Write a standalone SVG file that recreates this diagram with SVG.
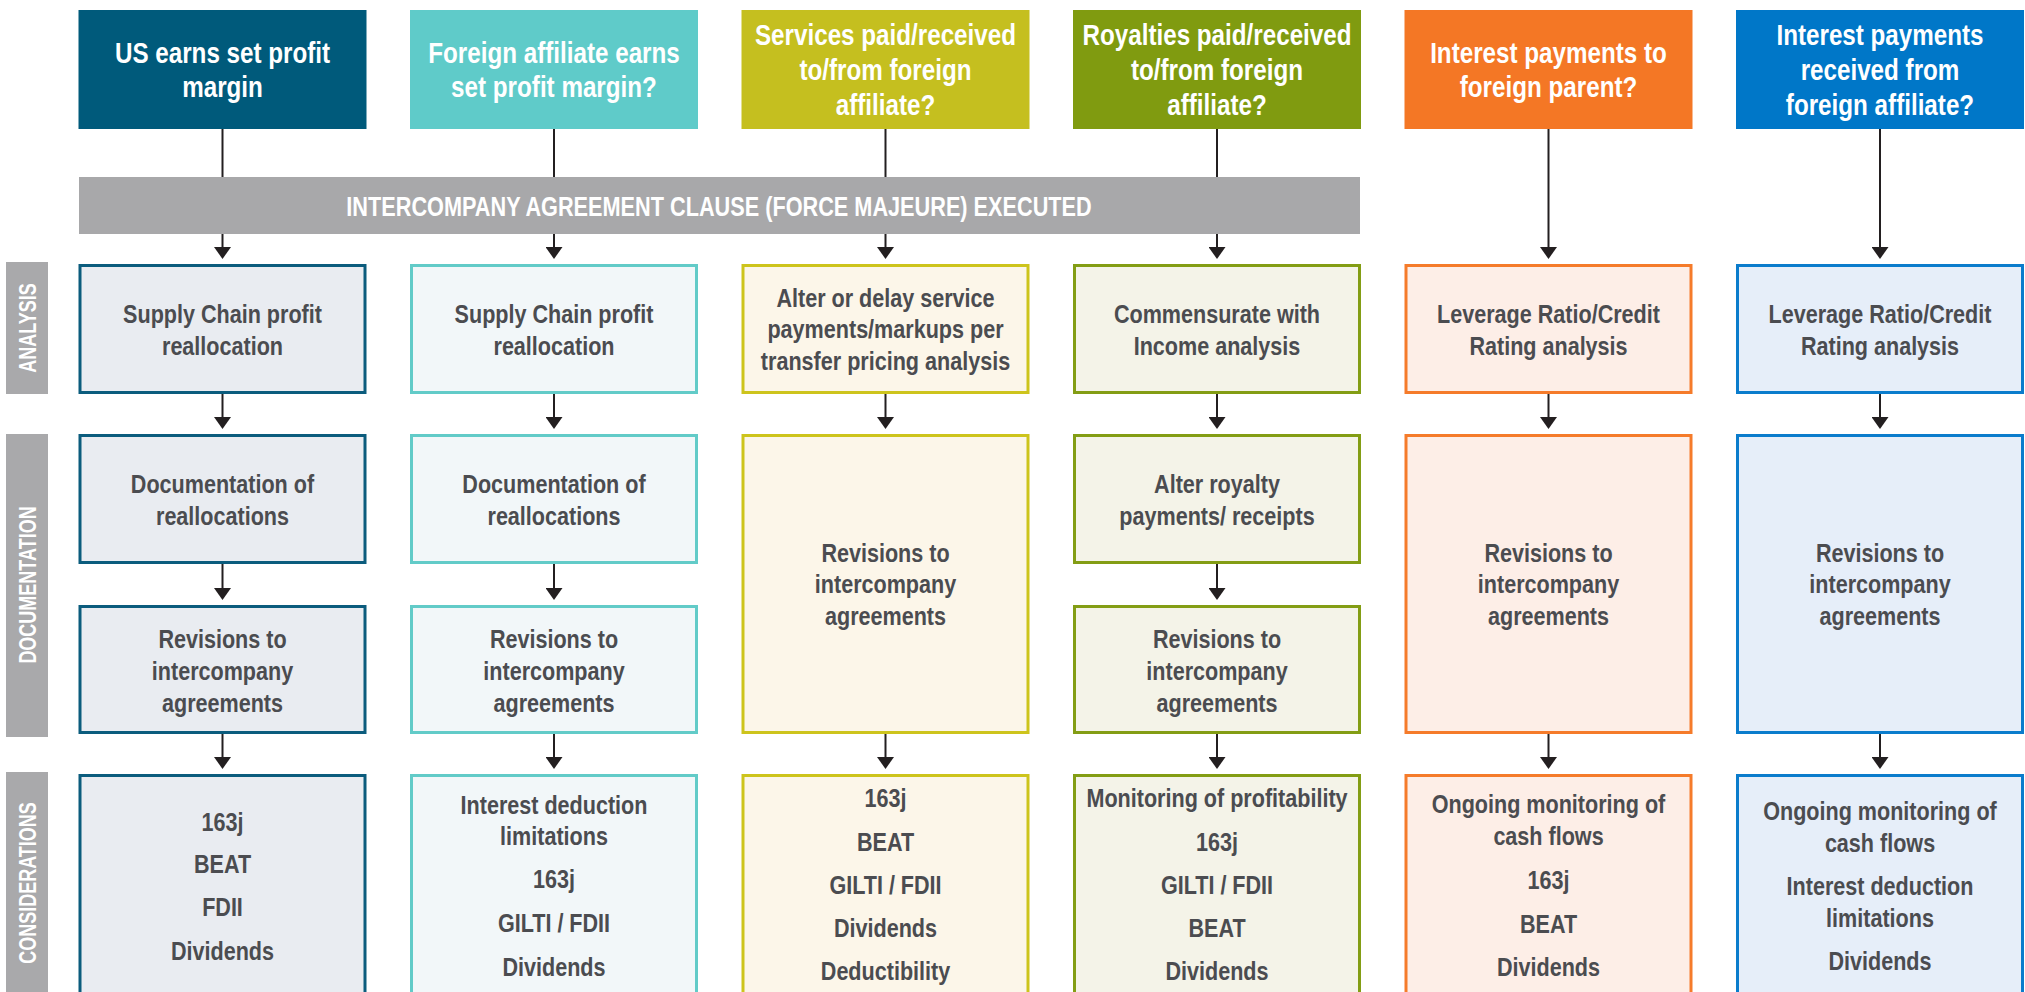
<svg xmlns="http://www.w3.org/2000/svg" width="2025" height="992" viewBox="0 0 2025 992">
<style>
  text { font-family: "Liberation Sans", Arial, sans-serif; font-weight: bold; text-anchor: middle; }
  .h { font-size: 29px; fill: #ffffff; }
  .b { font-size: 26px; fill: #4b4c50; }
  .bar { font-size: 28px; fill: #ffffff; }
  .side { font-size: 24px; fill: #ffffff; }
  .conn line { stroke: #231f20; stroke-width: 2; fill: none; }
  .conn .a { marker-end: url(#ah); }
  .n { stroke-width: 3; }
  .c1 { fill: #e9ecf1; stroke: #0b5c7d; }
  .c2 { fill: #f2f7f9; stroke: #62cbc8; }
  .c3 { fill: #fcf6e9; stroke: #cdc41c; }
  .c4 { fill: #f4f3e8; stroke: #839d14; }
  .c5 { fill: #fdeee7; stroke: #f57b2a; }
  .c6 { fill: #e6eef9; stroke: #0a7ccc; }
  .sl { fill: #a9a9ab; }
</style>
<defs>
  <marker id="ah" markerUnits="userSpaceOnUse" markerWidth="12" markerHeight="17" viewBox="0 -8.5 12 17" refX="8" refY="0" orient="auto">
    <path d="M0,-8.5 L12,0 L0,8.5 Z" fill="#231f20"/>
  </marker>
</defs>
<rect width="2025" height="992" fill="#ffffff"/>

<!-- side labels -->
<g id="label-analysis">
  <rect class="sl" x="6" y="262" width="42" height="132"/>
  <text class="side" transform="translate(36 328) rotate(-90) scale(0.75 1)" x="0" y="0">ANALYSIS</text>
</g>
<g id="label-documentation">
  <rect class="sl" x="6" y="434" width="42" height="303"/>
  <text class="side" transform="translate(36 585) rotate(-90) scale(0.75 1)" x="0" y="0">DOCUMENTATION</text>
</g>
<g id="label-considerations">
  <rect class="sl" x="6" y="772" width="42" height="230"/>
  <text class="side" transform="translate(36 883) rotate(-90) scale(0.75 1)" x="0" y="0">CONSIDERATIONS</text>
</g>

<!-- connectors -->
<g id="connectors" class="conn">
  <line x1="222.5" y1="129" x2="222.5" y2="177"/>
  <line x1="554" y1="129" x2="554" y2="177"/>
  <line x1="885.5" y1="129" x2="885.5" y2="177"/>
  <line x1="1217" y1="129" x2="1217" y2="177"/>
  <line class="a" x1="222.5" y1="234" x2="222.5" y2="255"/>
  <line class="a" x1="554" y1="234" x2="554" y2="255"/>
  <line class="a" x1="885.5" y1="234" x2="885.5" y2="255"/>
  <line class="a" x1="1217" y1="234" x2="1217" y2="255"/>
  <line class="a" x1="1548.5" y1="129" x2="1548.5" y2="255"/>
  <line class="a" x1="1880" y1="129" x2="1880" y2="255"/>
  <line class="a" x1="222.5" y1="394" x2="222.5" y2="425"/>
  <line class="a" x1="554" y1="394" x2="554" y2="425"/>
  <line class="a" x1="885.5" y1="394" x2="885.5" y2="425"/>
  <line class="a" x1="1217" y1="394" x2="1217" y2="425"/>
  <line class="a" x1="1548.5" y1="394" x2="1548.5" y2="425"/>
  <line class="a" x1="1880" y1="394" x2="1880" y2="425"/>
  <line class="a" x1="222.5" y1="564" x2="222.5" y2="596"/>
  <line class="a" x1="554" y1="564" x2="554" y2="596"/>
  <line class="a" x1="1217" y1="564" x2="1217" y2="596"/>
  <line class="a" x1="222.5" y1="734" x2="222.5" y2="765"/>
  <line class="a" x1="554" y1="734" x2="554" y2="765"/>
  <line class="a" x1="885.5" y1="734" x2="885.5" y2="765"/>
  <line class="a" x1="1217" y1="734" x2="1217" y2="765"/>
  <line class="a" x1="1548.5" y1="734" x2="1548.5" y2="765"/>
  <line class="a" x1="1880" y1="734" x2="1880" y2="765"/>
</g>

<!-- bar -->
<g id="force-majeure">
  <rect x="79" y="177" width="1281" height="57" fill="#a8a8aa"/>
  <text class="bar" transform="translate(719 0) scale(0.775 1)" x="0" y="216">INTERCOMPANY AGREEMENT CLAUSE (FORCE MAJEURE) EXECUTED</text>
</g>

<!-- headers -->
<g id="h1"><rect x="78.5" y="10" width="288" height="119" fill="#005a7b"/>
  <text class="h" transform="translate(222.5 0) scale(0.835 1)"><tspan x="0" y="63">US earns set profit</tspan><tspan x="0" y="97">margin</tspan></text></g>
<g id="h2"><rect x="410" y="10" width="288" height="119" fill="#5fcbc9"/>
  <text class="h" transform="translate(554 0) scale(0.835 1)"><tspan x="0" y="63">Foreign affiliate earns</tspan><tspan x="0" y="97">set profit margin?</tspan></text></g>
<g id="h3"><rect x="741.5" y="10" width="288" height="119" fill="#c5bf1f"/>
  <text class="h" transform="translate(885.5 0) scale(0.835 1)"><tspan x="0" y="45">Services paid/received</tspan><tspan x="0" y="80">to/from foreign</tspan><tspan x="0" y="115">affiliate?</tspan></text></g>
<g id="h4"><rect x="1073" y="10" width="288" height="119" fill="#809b10"/>
  <text class="h" transform="translate(1217 0) scale(0.835 1)"><tspan x="0" y="45">Royalties paid/received</tspan><tspan x="0" y="80">to/from foreign</tspan><tspan x="0" y="115">affiliate?</tspan></text></g>
<g id="h5"><rect x="1404.5" y="10" width="288" height="119" fill="#f47725"/>
  <text class="h" transform="translate(1548.5 0) scale(0.835 1)"><tspan x="0" y="63">Interest payments to</tspan><tspan x="0" y="97">foreign parent?</tspan></text></g>
<g id="h6"><rect x="1736" y="10" width="288" height="119" fill="#0077c8"/>
  <text class="h" transform="translate(1880 0) scale(0.835 1)"><tspan x="0" y="45">Interest payments</tspan><tspan x="0" y="80">received from</tspan><tspan x="0" y="115">foreign affiliate?</tspan></text></g>

<!-- analysis -->
<g id="a1"><rect class="n c1" x="80" y="265.5" width="285" height="127"/>
  <text class="b" transform="translate(222.5 0) scale(0.83 1)"><tspan x="0" y="323">Supply Chain profit</tspan><tspan x="0" y="355">reallocation</tspan></text></g>
<g id="a2"><rect class="n c2" x="411.5" y="265.5" width="285" height="127"/>
  <text class="b" transform="translate(554 0) scale(0.83 1)"><tspan x="0" y="323">Supply Chain profit</tspan><tspan x="0" y="355">reallocation</tspan></text></g>
<g id="a3"><rect class="n c3" x="743" y="265.5" width="285" height="127"/>
  <text class="b" transform="translate(885.5 0) scale(0.83 1)"><tspan x="0" y="307">Alter or delay service</tspan><tspan x="0" y="338">payments/markups per</tspan><tspan x="0" y="370">transfer pricing analysis</tspan></text></g>
<g id="a4"><rect class="n c4" x="1074.5" y="265.5" width="285" height="127"/>
  <text class="b" transform="translate(1217 0) scale(0.83 1)"><tspan x="0" y="323">Commensurate with</tspan><tspan x="0" y="355">Income analysis</tspan></text></g>
<g id="a5"><rect class="n c5" x="1406" y="265.5" width="285" height="127"/>
  <text class="b" transform="translate(1548.5 0) scale(0.83 1)"><tspan x="0" y="323">Leverage Ratio/Credit</tspan><tspan x="0" y="355">Rating analysis</tspan></text></g>
<g id="a6"><rect class="n c6" x="1737.5" y="265.5" width="285" height="127"/>
  <text class="b" transform="translate(1880 0) scale(0.83 1)"><tspan x="0" y="323">Leverage Ratio/Credit</tspan><tspan x="0" y="355">Rating analysis</tspan></text></g>

<!-- documentation -->
<g id="d1a"><rect class="n c1" x="80" y="435.5" width="285" height="127"/>
  <text class="b" transform="translate(222.5 0) scale(0.83 1)"><tspan x="0" y="493">Documentation of</tspan><tspan x="0" y="525">reallocations</tspan></text></g>
<g id="d2a"><rect class="n c2" x="411.5" y="435.5" width="285" height="127"/>
  <text class="b" transform="translate(554 0) scale(0.83 1)"><tspan x="0" y="493">Documentation of</tspan><tspan x="0" y="525">reallocations</tspan></text></g>
<g id="d4a"><rect class="n c4" x="1074.5" y="435.5" width="285" height="127"/>
  <text class="b" transform="translate(1217 0) scale(0.83 1)"><tspan x="0" y="493">Alter royalty</tspan><tspan x="0" y="525">payments/ receipts</tspan></text></g>
<g id="d1b"><rect class="n c1" x="80" y="606.5" width="285" height="126"/>
  <text class="b" transform="translate(222.5 0) scale(0.83 1)"><tspan x="0" y="648">Revisions to</tspan><tspan x="0" y="680">intercompany</tspan><tspan x="0" y="712">agreements</tspan></text></g>
<g id="d2b"><rect class="n c2" x="411.5" y="606.5" width="285" height="126"/>
  <text class="b" transform="translate(554 0) scale(0.83 1)"><tspan x="0" y="648">Revisions to</tspan><tspan x="0" y="680">intercompany</tspan><tspan x="0" y="712">agreements</tspan></text></g>
<g id="d4b"><rect class="n c4" x="1074.5" y="606.5" width="285" height="126"/>
  <text class="b" transform="translate(1217 0) scale(0.83 1)"><tspan x="0" y="648">Revisions to</tspan><tspan x="0" y="680">intercompany</tspan><tspan x="0" y="712">agreements</tspan></text></g>
<g id="d3"><rect class="n c3" x="743" y="435.5" width="285" height="297"/>
  <text class="b" transform="translate(885.5 0) scale(0.83 1)"><tspan x="0" y="562">Revisions to</tspan><tspan x="0" y="593">intercompany</tspan><tspan x="0" y="625">agreements</tspan></text></g>
<g id="d5"><rect class="n c5" x="1406" y="435.5" width="285" height="297"/>
  <text class="b" transform="translate(1548.5 0) scale(0.83 1)"><tspan x="0" y="562">Revisions to</tspan><tspan x="0" y="593">intercompany</tspan><tspan x="0" y="625">agreements</tspan></text></g>
<g id="d6"><rect class="n c6" x="1737.5" y="435.5" width="285" height="297"/>
  <text class="b" transform="translate(1880 0) scale(0.83 1)"><tspan x="0" y="562">Revisions to</tspan><tspan x="0" y="593">intercompany</tspan><tspan x="0" y="625">agreements</tspan></text></g>

<!-- considerations -->
<g id="k1"><rect class="n c1" x="80" y="775.5" width="285" height="260"/>
  <text class="b" transform="translate(222.5 0) scale(0.83 1)"><tspan x="0" y="831">163j</tspan><tspan x="0" y="873">BEAT</tspan><tspan x="0" y="916">FDII</tspan><tspan x="0" y="960">Dividends</tspan></text></g>
<g id="k2"><rect class="n c2" x="411.5" y="775.5" width="285" height="260"/>
  <text class="b" transform="translate(554 0) scale(0.83 1)"><tspan x="0" y="814">Interest deduction</tspan><tspan x="0" y="845">limitations</tspan><tspan x="0" y="888">163j</tspan><tspan x="0" y="932">GILTI / FDII</tspan><tspan x="0" y="976">Dividends</tspan></text></g>
<g id="k3"><rect class="n c3" x="743" y="775.5" width="285" height="260"/>
  <text class="b" transform="translate(885.5 0) scale(0.83 1)"><tspan x="0" y="807">163j</tspan><tspan x="0" y="851">BEAT</tspan><tspan x="0" y="894">GILTI / FDII</tspan><tspan x="0" y="937">Dividends</tspan><tspan x="0" y="980">Deductibility</tspan></text></g>
<g id="k4"><rect class="n c4" x="1074.5" y="775.5" width="285" height="260"/>
  <text class="b" transform="translate(1217 0) scale(0.83 1)"><tspan x="0" y="807">Monitoring of profitability</tspan><tspan x="0" y="851">163j</tspan><tspan x="0" y="894">GILTI / FDII</tspan><tspan x="0" y="937">BEAT</tspan><tspan x="0" y="980">Dividends</tspan></text></g>
<g id="k5"><rect class="n c5" x="1406" y="775.5" width="285" height="260"/>
  <text class="b" transform="translate(1548.5 0) scale(0.83 1)"><tspan x="0" y="813">Ongoing monitoring of</tspan><tspan x="0" y="845">cash flows</tspan><tspan x="0" y="889">163j</tspan><tspan x="0" y="933">BEAT</tspan><tspan x="0" y="976">Dividends</tspan></text></g>
<g id="k6"><rect class="n c6" x="1737.5" y="775.5" width="285" height="260"/>
  <text class="b" transform="translate(1880 0) scale(0.83 1)"><tspan x="0" y="820">Ongoing monitoring of</tspan><tspan x="0" y="852">cash flows</tspan><tspan x="0" y="895">Interest deduction</tspan><tspan x="0" y="927">limitations</tspan><tspan x="0" y="970">Dividends</tspan></text></g>
</svg>
